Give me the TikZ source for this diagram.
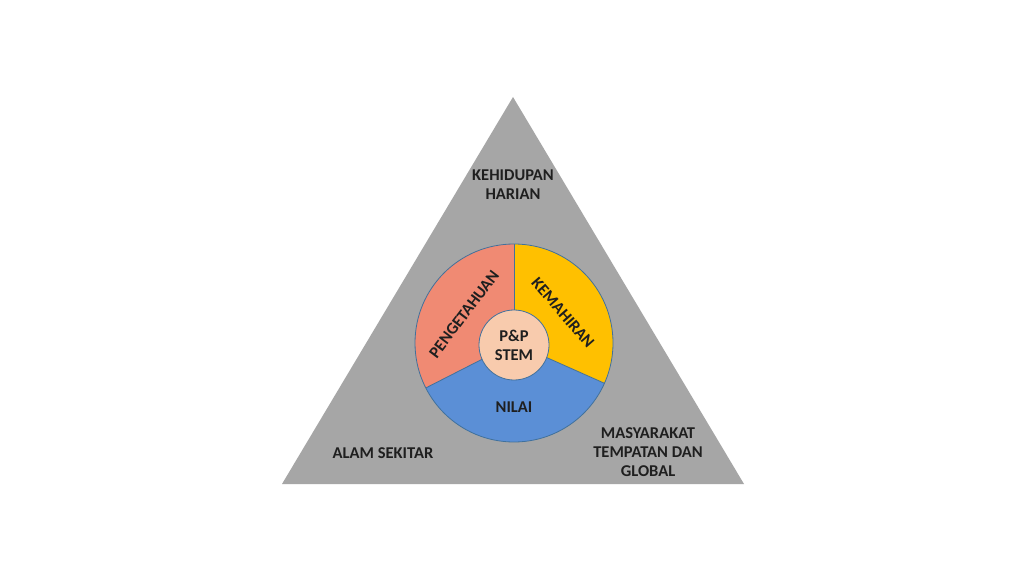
\documentclass[tikz,border=0pt]{standalone}
\usepackage{fontspec}
\setmainfont{Carlito}
\definecolor{trigray}{HTML}{A6A6A6}
\definecolor{salmon}{HTML}{F08A73}
\definecolor{gold}{HTML}{FFC000}
\definecolor{bluef}{HTML}{5B8FD6}
\definecolor{peach}{HTML}{F8CBAD}
\definecolor{edge}{HTML}{41719C}
\definecolor{txt}{HTML}{1F1F1F}
\tikzset{
  lbl/.style={font=\bfseries\fontsize{16.5}{19}\selectfont, text=txt, align=center, inner sep=0pt},
  seg/.style={draw=edge, line width=0.8pt, line join=round}
}
\begin{document}
\begin{tikzpicture}[x=1pt,y=1pt]
\useasboundingbox (0,0) rectangle (1024,576);
\fill[white] (0,0) rectangle (1024,576);
% triangle
\coordinate (apex) at (513,479);
\coordinate (bl) at (282,92);
\coordinate (br) at (744,92);
\fill[trigray] (apex) -- (bl) -- (br) -- cycle;
% circle segments
\coordinate (c) at (514,233);
\def\R{99}
\fill[salmon] (c) -- ++(90:\R) arc[start angle=90,end angle=207,radius=\R] -- cycle;
\fill[bluef] (c) -- ++(207:\R) arc[start angle=207,end angle=336,radius=\R] -- cycle;
\fill[gold] (c) -- ++(336:\R) arc[start angle=336,end angle=450,radius=\R] -- cycle;
\draw[seg] (c) -- ++(90:\R);
\draw[seg] (c) -- ++(207:\R);
\draw[seg] (c) -- ++(336:\R);
\draw[seg] (c) circle[radius=\R];
\node[seg, circle, fill=peach, minimum size=70pt, inner sep=0pt] (core) at (514,231) {};
\node[lbl] (pp) at (core) {P\&P\\STEM};
% segment labels
\node[lbl, rotate=53] (peng) at (464,262) {PENGETAHUAN};
\node[lbl, rotate=-49] (kem) at (563,263) {KEMAHIRAN};
\node[lbl] (nilai) at (514,169) {NILAI};
% triangle labels
\node[lbl] (kh) at (513,391) {KEHIDUPAN\\HARIAN};
\node[lbl] (alam) at (383,123) {ALAM SEKITAR};
\node[lbl] (masy) at (648,124) {MASYARAKAT\\TEMPATAN DAN\\GLOBAL};
\end{tikzpicture}
\end{document}
